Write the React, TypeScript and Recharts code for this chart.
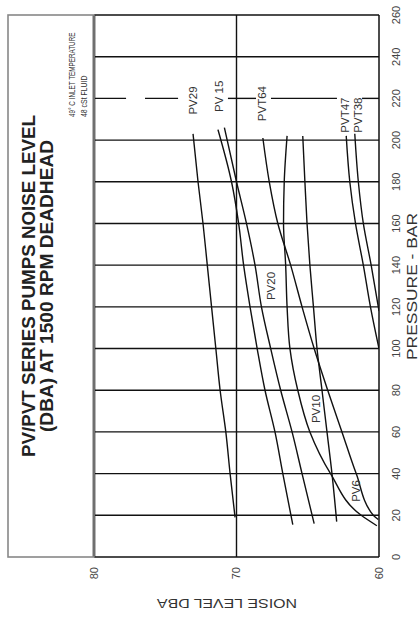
import React from 'react';
import { LineChart, Line, XAxis, YAxis, ReferenceLine, ReferenceDot } from 'recharts';

// pressure (bar) and noise (dBA) readings, as [pressure, noise]
const pressureTicks = [0, 20, 40, 60, 80, 100, 120, 140, 160, 180, 200, 220, 240, 260];
const noiseTicks = [60, 70, 80];

const pv29 = [[19, 70.1], [40, 70.45], [60, 70.75], [80, 71.15], [100, 71.45], [120, 71.75], [140, 72.05], [160, 72.35], [180, 72.7], [203, 73.05]];
const pv15 = [[15.5, 66.05], [40, 66.75], [60, 67.3], [80, 68.0], [100, 68.55], [120, 69.05], [140, 69.5], [160, 69.85], [180, 70.35], [205, 71.3]];
const pv20 = [[16, 64.55], [40, 65.4], [60, 66.1], [80, 66.9], [100, 67.6], [120, 68.25], [140, 68.7], [160, 69.3], [180, 70.0], [206, 70.85]];
const pv10 = [[15, 60.15], [20, 61.25], [40, 63.4], [60, 64.85], [80, 65.7], [100, 66.25], [120, 66.45], [140, 66.55], [160, 66.7], [180, 66.65], [202, 66.45]];
const pvt64 = [[18, 60.05], [20, 60.4], [40, 61.6], [60, 62.6], [80, 63.6], [100, 64.55], [120, 65.4], [140, 66.2], [160, 67.1], [180, 67.7], [201, 68.15]];
const pv6 = [[17, 62.97], [40, 63.3], [60, 63.65], [80, 64.0], [100, 64.35], [120, 64.6], [140, 64.85], [160, 65.05], [180, 65.2], [202, 65.35]];
const pvt47 = [[100, 60.0], [120, 60.6], [140, 61.1], [160, 61.65], [180, 62.05], [202, 62.3]];
const pvt38 = [[118, 60.0], [140, 60.55], [160, 61.1], [180, 61.45], [203, 61.7]];

const series = [pv29, pv15, pv20, pv10, pvt64, pv6, pvt47, pvt38];

// the 220 bar line is broken where the curve names sit
const line220Pieces = [[80, 77.75], [76.42, 74.1], [70.6, 68.63], [67.58, 62.95], [61.19, 60]];

const curveLabels = [
  { text: 'PV29', p: 219, n: 73.05, angle: 0 },
  { text: 'PV 15', p: 221, n: 71.26, angle: 0 },
  { text: 'PVT64', p: 217.5, n: 68.18, angle: 0 },
  { text: 'PVT47', p: 212, n: 62.39, angle: 0 },
  { text: 'PVT38', p: 212, n: 61.51, angle: 0 },
  { text: 'PV20', p: 130, n: 67.6, angle: -8 },
  { text: 'PV10', p: 71, n: 64.45, angle: -8 },
  { text: 'PV6', p: 31.7, n: 61.6, angle: -30 },
];

const font = '"Liberation Sans", Arial, sans-serif';

const CurveLabel = (props: any) => {
  const { viewBox, text, angle } = props;
  const cx = viewBox.x + viewBox.width / 2;
  const cy = viewBox.y + viewBox.height / 2;
  return (
    <text
      x={cx}
      y={cy}
      dy="0.35em"
      textAnchor="middle"
      fontSize={11.5}
      fontFamily={font}
      fill="#333"
      transform={angle ? `rotate(${angle} ${cx} ${cy})` : undefined}
    >
      {text}
    </text>
  );
};

export default function App() {
  const W = 618;
  const H = 419;
  return (
    <div style={{ position: 'absolute', left: 0, top: 0, width: 419, height: 618, overflow: 'hidden', background: '#fff' }}>
      <div style={{ position: 'absolute', left: 0, top: 0, width: W, height: H, transformOrigin: '0 0', transform: `translateY(${W}px) rotate(-90deg)` }}>
        <LineChart width={W} height={H} margin={{ top: 94, right: 15, bottom: 0, left: 0 }}>
          <XAxis
            type="number"
            dataKey="p"
            domain={[0, 260]}
            ticks={pressureTicks}
            interval={0}
            axisLine={false}
            tickLine={false}
            tickMargin={7}
            height={40}
            allowDataOverflow
            tick={{ fontSize: 11, fill: '#444', fontFamily: font }}
          />
          <YAxis
            type="number"
            domain={[60, 80]}
            ticks={noiseTicks}
            axisLine={false}
            tickLine={false}
            tickMargin={4}
            width={61}
            allowDataOverflow
            tick={{ fontSize: 11, fill: '#444', fontFamily: font }}
          />
          {pressureTicks.filter(t => t !== 220).map(t => (
            <ReferenceLine key={'g' + t} x={t} stroke="#111" strokeWidth={1.4} />
          ))}
          <ReferenceLine y={70} stroke="#111" strokeWidth={1.4} />
          <ReferenceLine y={60} stroke="#111" strokeWidth={1.5} />
          <ReferenceLine y={80} stroke="#111" strokeWidth={2.6} />
          {line220Pieces.map(([a, b], i) => (
            <ReferenceLine key={'d' + i} segment={[{ x: 220, y: a }, { x: 220, y: b }]} stroke="#111" strokeWidth={1.4} />
          ))}
          {series.map((s, i) => (
            <Line
              key={i}
              data={s.map(([p, n]) => ({ p, n }))}
              dataKey="n"
              type="monotone"
              stroke="#111"
              strokeWidth={1.4}
              dot={false}
              isAnimationActive={false}
            />
          ))}
          {curveLabels.map(l => (
            <ReferenceDot
              key={l.text}
              x={l.p}
              y={l.n}
              r={1}
              fill="none"
              stroke="none"
              label={<CurveLabel text={l.text} angle={l.angle} />}
            />
          ))}
        </LineChart>
        <svg width={W} height={H} style={{ position: 'absolute', left: 0, top: 0, pointerEvents: 'none' }}>
          <rect x={61} y={8} width={542} height={86} fill="none" stroke="#888" strokeWidth={1.6} />
          <text x={332} y={35} textAnchor="middle" fontSize={18} fontWeight="bold" fontFamily={font} fill="#222" textLength={342} lengthAdjust="spacingAndGlyphs">
            PV/PVT SERIES PUMPS NOISE LEVEL
          </text>
          <text x={332} y={53} textAnchor="middle" fontSize={18} fontWeight="bold" fontFamily={font} fill="#222" textLength={292} lengthAdjust="spacingAndGlyphs">
            (DBA) AT 1500 RPM DEADHEAD
          </text>
          {/* condensed note in the top corner of the title box */}
          <g transform="translate(501 75) scale(0.66 1)">
            <text x={0} y={0} fontSize={9.6} fontFamily={font} fill="#333">49° C INLET TEMPERATURE</text>
          </g>
          <g transform="translate(501 86.5) scale(0.72 1)">
            <text x={0} y={0} fontSize={9.6} fontFamily={font} fill="#333">48 cSt FLUID</text>
          </g>
          <text x={331.5} y={417} textAnchor="middle" fontSize={14} fontFamily={font} fill="#333" textLength={147} lengthAdjust="spacingAndGlyphs">
            PRESSURE - BAR
          </text>
          <text x={14} y={227} dy="0.35em" textAnchor="middle" fontSize={13} fontFamily={font} fill="#333" transform="rotate(-90 14 227)" textLength={140} lengthAdjust="spacingAndGlyphs">
            NOISE LEVEL DBA
          </text>
        </svg>
      </div>
    </div>
  );
}
